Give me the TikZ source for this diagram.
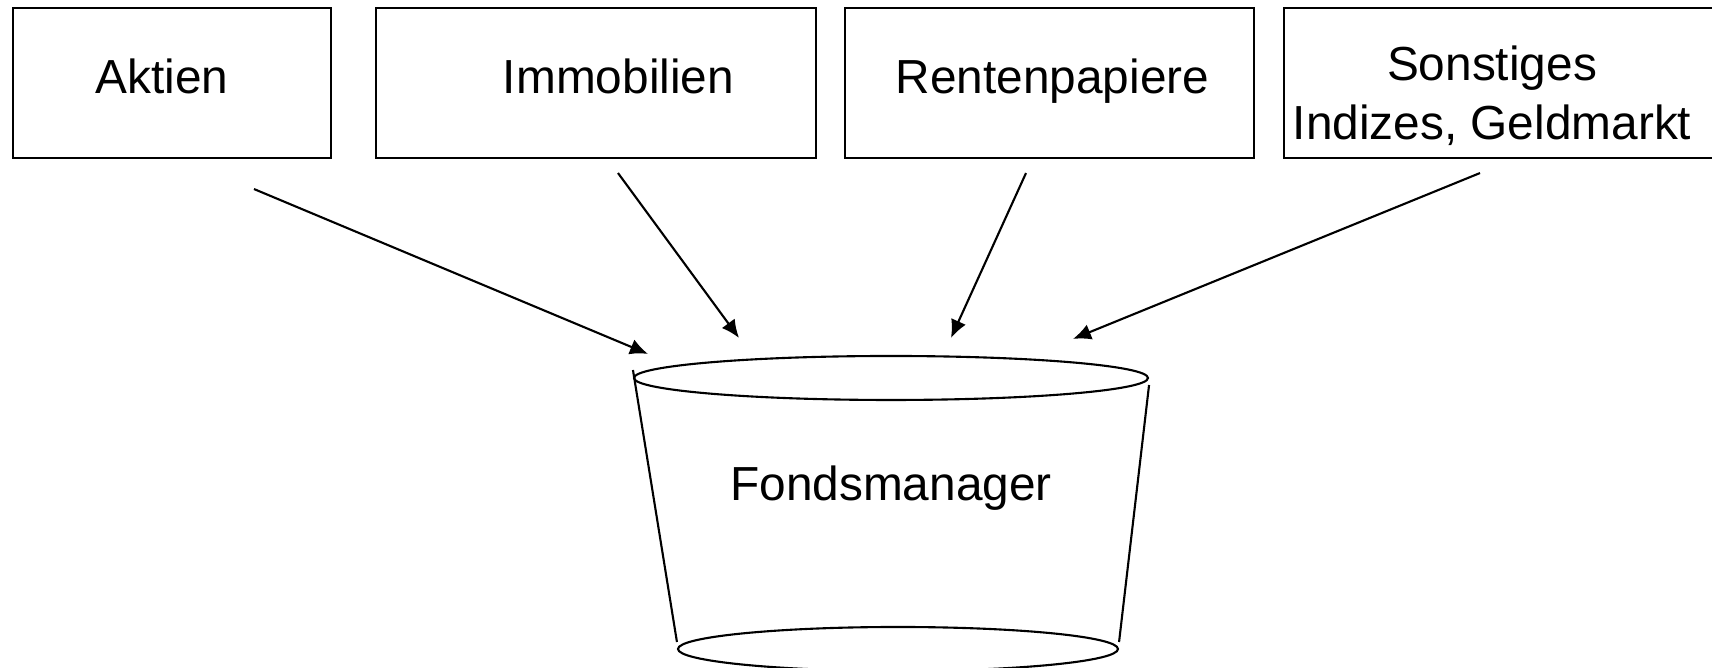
\documentclass[tikz,border=0pt]{standalone}
\usepackage{fontspec}
\setmainfont{Liberation Sans}
\usepackage{tikz}
\usetikzlibrary{shapes.geometric, arrows.meta, positioning}
\newcommand{\boxfont}{\fontsize{13.6pt}{16.8pt}\selectfont}
\tikzstyle{block}=[draw,rectangle,inner sep=0pt,minimum height=1.5cm]
\tikzstyle{rim}=[draw,ellipse,inner sep=0pt,minimum height=.44cm]
\tikzstyle{every node}=[font=\boxfont]

\begin{document}
\begin{tikzpicture}[>={Latex[length=1.8mm,width=1.6mm]},line width=.6pt]
  \useasboundingbox (0,0) rectangle (17.12,6.68);
  % boxes
  \node[block,minimum width=3.18cm] (aktien) at (1.72,5.85) {};
  \node[block,minimum width=4.40cm] (immo) at (5.96,5.85) {};
  \node[block,minimum width=4.09cm] (renten) at (10.495,5.85) {};
  \node[block,minimum width=4.46cm] (sonst) at (15.07,5.85) {};
  \node[anchor=base] (aktientxt) at (1.62,5.74) {Aktien};
  \node[anchor=base] (immotxt) at (6.185,5.74) {Immobilien};
  \node[anchor=base] (rententxt) at (10.525,5.74) {Rentenpapiere};
  \node[align=center] (sonsttxt) at (14.92,5.72) {Sonstiges\\Indizes, Geldmarkt};
  % bucket
  \node[rim,minimum width=5.14cm] (top) at (8.91,2.90) {};
  \node[rim,minimum width=4.40cm] (bottom) at (8.98,0.19) {};
  \draw ([yshift=.8mm]top.west) -- ([yshift=.7mm]bottom.west);
  \draw ([yshift=-.7mm]top.east) -- ([yshift=.7mm]bottom.east);
  \node[anchor=base] (fonds) at (8.91,1.67) {Fondsmanager};
  % arrows
  \draw[->] ([xshift=8.2mm,yshift=-3mm]aktien.south) -- ([xshift=-24.3mm,yshift=.1mm]top.north);
  \draw[->] ([xshift=2.2mm,yshift=-1.4mm]immo.south) -- ([xshift=-15.2mm,yshift=1.7mm]top.north);
  \draw[->] ([xshift=-2.35mm,yshift=-1.4mm]renten.south) -- ([xshift=6mm,yshift=1.7mm]top.north);
  \draw[->] ([xshift=-2.7mm,yshift=-1.4mm]sonst.south) -- ([xshift=18.2mm,yshift=1.6mm]top.north);
\end{tikzpicture}
\end{document}
